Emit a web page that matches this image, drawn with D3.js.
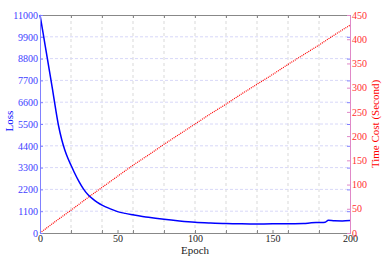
<!DOCTYPE html>
<html>
<head>
<meta charset="utf-8">
<script src="https://cdn.jsdelivr.net/npm/d3@7"></script>
<style>
  body { margin: 0; background: #fff; }
</style>
</head>
<body>
<div id="vis"></div>
<script>
// frame
const FRAME_WIDTH = 382;
const FRAME_HEIGHT = 260;
const MARGINS = {left: 40, right: 32, top: 15, bottom: 27};
const VIS_WIDTH = FRAME_WIDTH - MARGINS.left - MARGINS.right;
const VIS_HEIGHT = FRAME_HEIGHT - MARGINS.top - MARGINS.bottom;
const SERIF = "'Liberation Serif'";

// data
const lossEpochs = [0, 2, 4, 6, 8, 10, 12, 14, 16, 18, 20, 22, 25, 28, 31, 34, 37, 40, 45, 50, 55, 60,
                    70, 80, 90, 100, 110, 120, 130, 140, 150, 160, 170, 175, 180, 184, 186, 190, 195, 200];
const lossValues = [11000, 10080, 9150, 8220, 7280, 6300, 5400, 4720, 4190, 3770, 3420, 3080, 2620, 2230, 1930, 1720, 1550, 1410, 1230, 1080, 990, 920,
                    790, 690, 610, 545, 505, 475, 462, 458, 462, 466, 478, 515, 530, 545, 640, 615, 610, 630];
const timeEpochs = [0, 10, 20, 30, 40, 50, 60, 70, 80, 90, 100, 110, 120, 130, 140, 150, 160, 170, 180, 190, 200];
const timeValues = [0, 24, 47, 71, 94, 117, 140, 161, 183, 204, 225, 246, 266, 287, 307, 327, 348, 368, 388, 409, 429];

const xLabelTicks = [0, 50, 100, 150, 200];
const xGridTicks = [0, 20, 40, 60, 80, 100, 120, 140, 160, 180, 200];
const lossTicks = [0, 1100, 2200, 3300, 4400, 5500, 6600, 7700, 8800, 9900, 11000];
const timeTicks = [0, 50, 100, 150, 200, 250, 300, 350, 400, 450];

const FRAME = d3.select("#vis")
  .append("svg")
    .attr("width", FRAME_WIDTH)
    .attr("height", FRAME_HEIGHT);

const X_SCALE = d3.scaleLinear().domain([0, 200]).range([0, VIS_WIDTH]);
const Y_LOSS = d3.scaleLinear().domain([0, 11000]).range([VIS_HEIGHT, 0]);
const Y_TIME = d3.scaleLinear().domain([0, 450]).range([VIS_HEIGHT, 0]);

const G = FRAME.append("g")
  .attr("transform", "translate(" + MARGINS.left + "," + MARGINS.top + ")");

// grid
G.selectAll(".vgrid")
  .data(xGridTicks.slice(1, -1))
  .enter()
  .append("line")
    .attr("x1", d => X_SCALE(d)).attr("x2", d => X_SCALE(d))
    .attr("y1", 0).attr("y2", VIS_HEIGHT)
    .attr("stroke", "#d9d9d9").attr("stroke-width", 1)
    .attr("stroke-dasharray", "3,3");

G.selectAll(".hgrid")
  .data(lossTicks.slice(1, -1))
  .enter()
  .append("line")
    .attr("x1", 0).attr("x2", VIS_WIDTH)
    .attr("y1", d => Y_LOSS(d)).attr("y2", d => Y_LOSS(d))
    .attr("stroke", "#d8d8f8").attr("stroke-width", 1)
    .attr("stroke-dasharray", "3,2");

// lines
const lossLine = d3.line()
  .x((d, i) => X_SCALE(lossEpochs[i]))
  .y(d => Y_LOSS(d))
  .curve(d3.curveMonotoneX);

const timeLine = d3.line()
  .x((d, i) => X_SCALE(timeEpochs[i]))
  .y(d => Y_TIME(d));

G.append("path")
  .datum(timeValues)
  .attr("d", timeLine)
  .attr("fill", "none")
  .attr("stroke", "#ff0000")
  .attr("stroke-width", 1.2)
  .attr("stroke-dasharray", "1,1");

G.append("path")
  .datum(lossValues)
  .attr("d", lossLine)
  .attr("fill", "none")
  .attr("stroke", "#0000ff")
  .attr("stroke-width", 1.5);

// axes
function styleAxis(sel, lineColor, textColor) {
  sel.attr("font-size", "10px").attr("font-family", null);
  sel.select(".domain").attr("stroke", lineColor);
  sel.selectAll(".tick line").attr("stroke", lineColor);
  sel.selectAll(".tick text").attr("fill", textColor).style("font-family", SERIF);
}

// top
G.append("g")
  .call(d3.axisTop(X_SCALE).tickValues(xGridTicks).tickSize(-3).tickFormat("").tickSizeOuter(0))
  .call(styleAxis, "#888", "#222");

// bottom minor ticks
G.append("g")
  .attr("transform", "translate(0," + VIS_HEIGHT + ")")
  .call(d3.axisBottom(X_SCALE).tickValues(xGridTicks).tickSize(-3).tickFormat("").tickSizeOuter(0))
  .call(styleAxis, "#888", "#222");

// bottom labels
G.append("g")
  .attr("transform", "translate(0," + VIS_HEIGHT + ")")
  .call(d3.axisBottom(X_SCALE).tickValues(xLabelTicks).tickSize(-3).tickPadding(2)
          .tickFormat(d3.format("d")).tickSizeOuter(0))
  .call(styleAxis, "#888", "#222");

// right: loss ticks (blue) then time (red)
G.append("g")
  .attr("transform", "translate(" + VIS_WIDTH + ",0)")
  .call(d3.axisRight(Y_LOSS).tickValues(lossTicks).tickSize(-3).tickFormat("").tickSizeOuter(0))
  .call(styleAxis, "#8080ff", "#00f");

G.append("g")
  .attr("transform", "translate(" + VIS_WIDTH + ",0)")
  .call(d3.axisRight(Y_TIME).tickValues(timeTicks).tickSize(-3).tickPadding(2)
          .tickFormat(d3.format("d")).tickSizeOuter(0))
  .call(styleAxis, "#e088c8", "#ff3030");

// left
G.append("g")
  .call(d3.axisLeft(Y_LOSS).tickValues(lossTicks).tickSize(-3).tickPadding(2)
          .tickFormat(d3.format("d")).tickSizeOuter(0))
  .call(styleAxis, "#8080ff", "#4040ff");

// labels
FRAME.append("text")
  .attr("x", MARGINS.left + VIS_WIDTH / 2)
  .attr("y", 254)
  .attr("text-anchor", "middle")
  .attr("font-size", "11px")
  .style("font-family", SERIF)
  .attr("fill", "#222")
  .text("Epoch");

FRAME.append("text")
  .attr("transform", "translate(13," + (MARGINS.top + VIS_HEIGHT / 2 - 3) + ") rotate(-90)")
  .attr("text-anchor", "middle")
  .attr("font-size", "11px")
  .style("font-family", SERIF)
  .attr("fill", "#0000ff")
  .text("Loss");

FRAME.append("text")
  .attr("transform", "translate(379," + (MARGINS.top + VIS_HEIGHT / 2) + ") rotate(-90)")
  .attr("text-anchor", "middle")
  .attr("font-size", "11px")
  .style("font-family", SERIF)
  .attr("fill", "#ff0000")
  .text("Time Cost (Second)");
</script>
</body>
</html>
